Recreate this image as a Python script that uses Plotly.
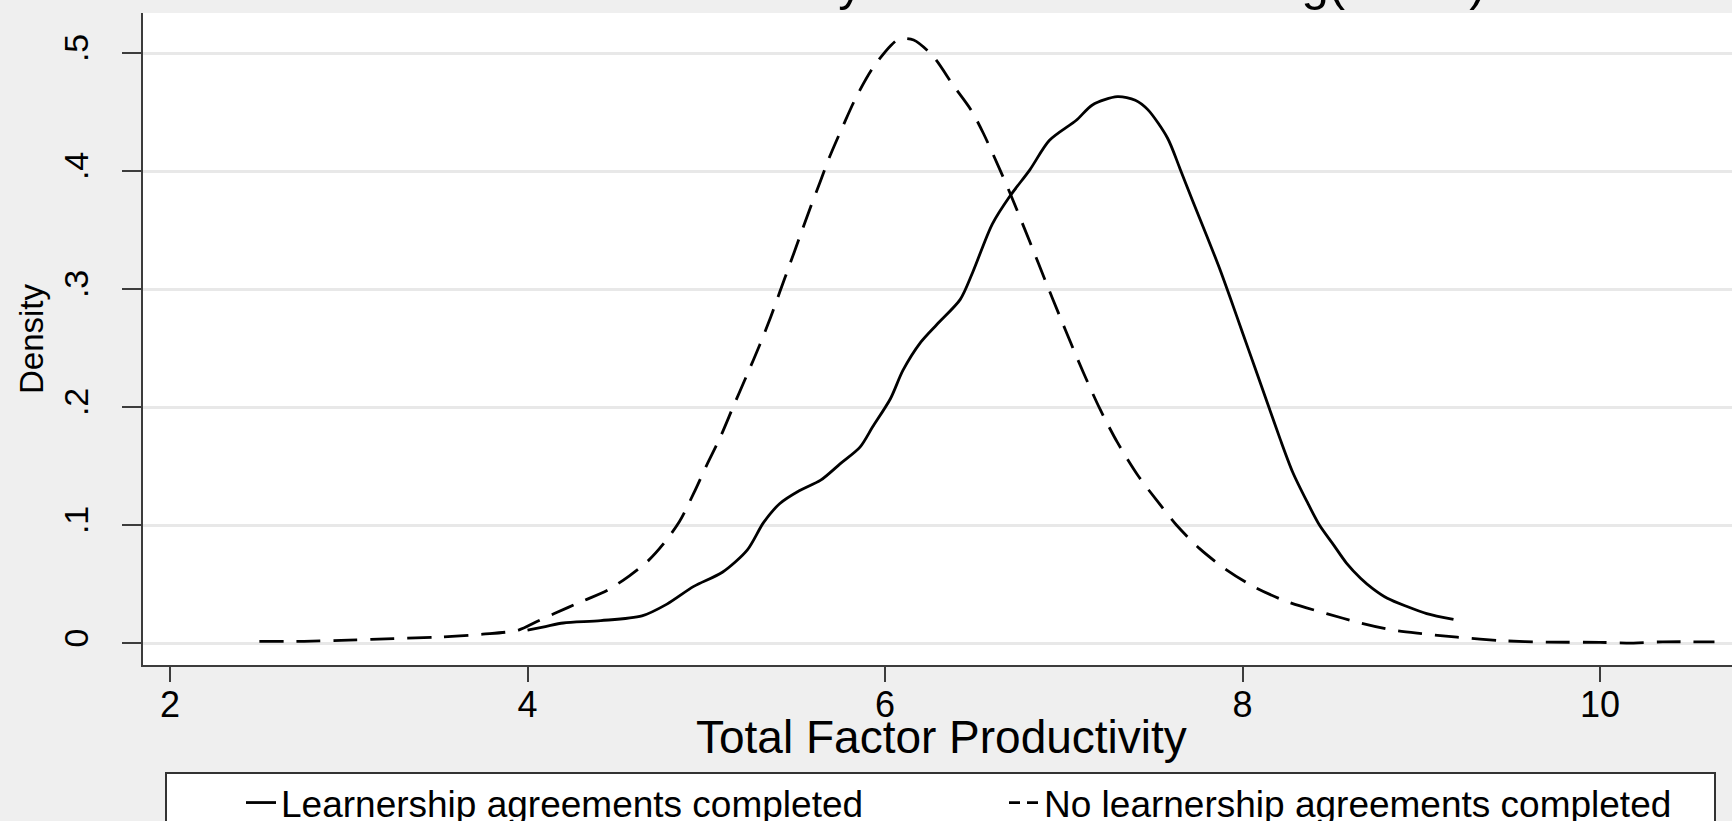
import plotly.graph_objects as go

# ---- data ----
tfp_no = [2.50, 2.75, 3.00, 3.25, 3.50, 3.75, 3.95, 4.05, 4.15, 4.30, 4.45, 4.57, 4.67, 4.76,
          4.85, 4.93, 5.00, 5.08, 5.15, 5.23, 5.30, 5.36, 5.41, 5.47, 5.52, 5.58, 5.64, 5.69,
          5.77, 5.84, 5.93, 6.03, 6.08, 6.16, 6.27, 6.38, 6.48, 6.55, 6.64, 6.70, 6.81, 6.91,
          6.98, 7.04, 7.11, 7.20, 7.30, 7.41, 7.54, 7.63, 7.76, 7.91, 8.06, 8.25, 8.47, 8.66,
          8.84, 9.00, 9.20, 9.45, 9.70, 10.00, 10.15, 10.35, 10.64]
dens_no = [0.0014, 0.0015, 0.0025, 0.0038, 0.005, 0.0075, 0.011, 0.018, 0.025, 0.035, 0.045,
           0.057, 0.069, 0.084, 0.103, 0.127, 0.150, 0.175, 0.200, 0.228, 0.253, 0.276, 0.297,
           0.322, 0.343, 0.368, 0.392, 0.412, 0.440, 0.463, 0.487, 0.506, 0.512, 0.511, 0.497,
           0.473, 0.452, 0.432, 0.402, 0.381, 0.340, 0.302, 0.276, 0.254, 0.229, 0.199, 0.170,
           0.143, 0.117, 0.100, 0.080, 0.062, 0.048, 0.035, 0.025, 0.017, 0.011, 0.008, 0.005,
           0.002, 0.0008, 0.0006, 0.0, 0.001, 0.001]

tfp_yes = [4.00, 4.10, 4.20, 4.41, 4.64, 4.78, 4.93, 5.09, 5.23, 5.32, 5.41, 5.52, 5.64, 5.75,
           5.86, 5.93, 6.03, 6.10, 6.20, 6.29, 6.42, 6.49, 6.60, 6.70, 6.81, 6.92, 7.07, 7.16,
           7.30, 7.40, 7.47, 7.58, 7.65, 7.72, 7.80, 7.87, 7.93, 8.00, 8.07, 8.14, 8.21, 8.28,
           8.36, 8.43, 8.51, 8.58, 8.66, 8.73, 8.81, 8.92, 9.03, 9.18]
dens_yes = [0.011, 0.014, 0.017, 0.019, 0.023, 0.033, 0.048, 0.060, 0.079, 0.102, 0.118, 0.129,
            0.138, 0.152, 0.166, 0.183, 0.207, 0.231, 0.255, 0.270, 0.291, 0.314, 0.355, 0.379,
            0.401, 0.426, 0.443, 0.456, 0.463, 0.460, 0.452, 0.428, 0.402, 0.375, 0.345, 0.318,
            0.293, 0.263, 0.233, 0.203, 0.173, 0.145, 0.120, 0.100, 0.083, 0.068, 0.055, 0.046,
            0.038, 0.031, 0.025, 0.020]

x_ticks = [2, 4, 6, 8, 10]
y_ticks = [0, 0.1, 0.2, 0.3, 0.4, 0.5]
y_tick_labels = ["0", ".1", ".2", ".3", ".4", ".5"]

series_names = ["Learnership agreements completed", "No learnership agreements completed"]
title_text = "Total Factor Productivity and Learner Training(SETA)"
x_title = "Total Factor Productivity"
y_title = "Density"

FONT = "Liberation Sans, Arial, sans-serif"
W, H = 1732, 821
ML, MR, MT, MB = 143, 0, 13, 156
PW, PH = W - ML - MR, H - MT - MB


def px_x(p):  # container pixel -> paper x
    return (p - ML) / PW


def px_y(p):  # container pixel (from top) -> paper y
    return (PH + MT - p) / PH


fig = go.Figure()
fig.add_trace(go.Scatter(x=tfp_yes, y=dens_yes, mode="lines", name=series_names[0],
                         legend="legend", legendgroup="yes",
                         line=dict(color="black", width=2.8, shape="spline", smoothing=0.8)))
fig.add_trace(go.Scatter(x=tfp_no, y=dens_no, mode="lines", name=series_names[1],
                         legendgroup="no", showlegend=False,
                         line=dict(color="black", width=2.8, dash="24px,13px",
                                   shape="spline", smoothing=0.8)))
# legend key for the dashed series (short sample shows the dash pattern like the original key)
fig.add_trace(go.Scatter(x=[None], y=[None], mode="lines", name=series_names[1],
                         legend="legend2", legendgroup="no", hoverinfo="skip",
                         line=dict(color="black", width=2.8, dash="11px,7px")))

legend_common = dict(orientation="h", xanchor="left", yref="container",
                     y=1 - 803 / H, yanchor="middle", bgcolor="rgba(0,0,0,0)",
                     borderwidth=0, font=dict(size=37, family=FONT, color="black"))

fig.update_layout(
    width=W, height=H,
    paper_bgcolor="#efefef", plot_bgcolor="white",
    margin=dict(l=ML, r=MR, t=MT, b=MB),
    font=dict(family=FONT, color="black"),
    title=dict(text=title_text, font=dict(size=49, family=FONT, color="black"),
               xref="container", x=340 / W, xanchor="left",
               yref="container", y=1.0, yanchor="bottom"),
    showlegend=True,
    legend=dict(xref="container", x=241 / W, **legend_common),
    legend2=dict(xref="container", x=1004 / W, **legend_common),
    xaxis=dict(range=[1.849, 10.738], tickvals=x_ticks, showgrid=False, zeroline=False,
               showline=True, linecolor="#3c3c3c", linewidth=2, ticks="outside",
               ticklen=15, tickwidth=2, tickcolor="#3c3c3c",
               tickfont=dict(size=36, family=FONT), ticklabelstandoff=-8),
    yaxis=dict(range=[-0.0186, 0.5339], tickvals=y_ticks, ticktext=y_tick_labels,
               tickangle=-90, showgrid=True, gridcolor="#e8e8e8", gridwidth=3,
               zeroline=False, showline=True, linecolor="#3c3c3c", linewidth=2,
               ticks="outside", ticklen=19, tickwidth=2, tickcolor="#3c3c3c",
               tickfont=dict(size=34, family=FONT), ticklabelstandoff=20,
               title=dict(text=y_title, font=dict(size=33, family=FONT), standoff=4)),
    annotations=[dict(text=x_title, xref="paper", yref="paper",
                      x=px_x(941), y=px_y(737),
                      xanchor="center", yanchor="middle", showarrow=False,
                      font=dict(size=46, family=FONT, color="black"))],
    shapes=[dict(type="rect", xref="paper", yref="paper",
                 x0=px_x(166), x1=px_x(1715), y0=px_y(773), y1=px_y(860),
                 fillcolor="white", line=dict(color="#333333", width=2), layer="below")],
)

fig.write_html("out.html")
